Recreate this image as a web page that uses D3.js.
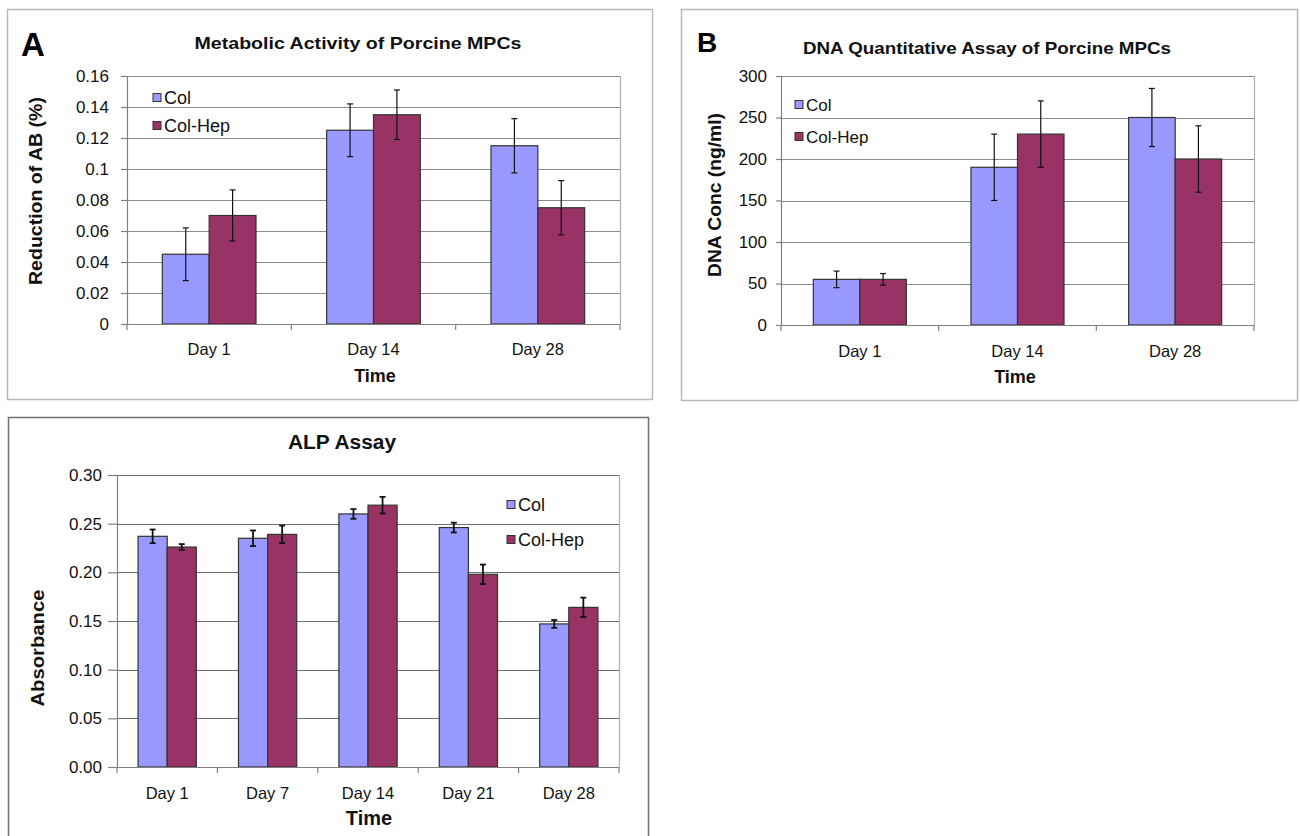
<!DOCTYPE html>
<html><head><meta charset="utf-8">
<script src="https://d3js.org/d3.v7.min.js"></script>
<style>body{margin:0;background:#fff}svg{display:block;font-family:"Liberation Sans",Arial,sans-serif}</style>
</head><body>
<svg id="c" width="1300" height="836"></svg>
<script>
// ---- data ----
const seriesNames = ["Col", "Col-Hep"];
const colors = ["#9999FF", "#993366"];

const catsA = ["Day 1", "Day 14", "Day 28"];
const colA = [0.045, 0.125, 0.115];
const hepA = [0.070, 0.135, 0.075];
const colErrA = [0.017, 0.017, 0.0175];
const hepErrA = [0.0165, 0.016, 0.0175];
const ticksA = [0, 0.02, 0.04, 0.06, 0.08, 0.1, 0.12, 0.14, 0.16];

const catsB = ["Day 1", "Day 14", "Day 28"];
const colB = [55, 190, 250];
const hepB = [55, 230, 200];
const colErrB = [10, 40, 35];
const hepErrB = [7, 40, 40];
const ticksB = [0, 50, 100, 150, 200, 250, 300];

const catsC = ["Day 1", "Day 7", "Day 14", "Day 21", "Day 28"];
const colC = [0.237, 0.235, 0.260, 0.246, 0.147];
const hepC = [0.226, 0.239, 0.269, 0.198, 0.164];
const colErrC = [0.007, 0.008, 0.005, 0.005, 0.004];
const hepErrC = [0.003, 0.009, 0.0085, 0.010, 0.010];
const ticksC = [0, 0.05, 0.10, 0.15, 0.20, 0.25, 0.30];

const svg = d3.select("#c");

function panel(o) {
  const g = svg.append("g");
  // frame
  g.append("rect").attr("x", o.frame[0] + 0.5).attr("y", o.frame[1] + 0.5)
    .attr("width", o.frame[2]).attr("height", o.frame[3])
    .attr("fill", "#fff").attr("stroke", o.frameColor).attr("stroke-width", 1.5);

  const x = d3.scaleBand().domain(o.cats).range([o.px0, o.px1])
    .paddingInner(o.pad).paddingOuter(o.pad / 2);
  const xs = d3.scaleBand().domain(seriesNames).range([0, x.bandwidth()]);
  const y = d3.scaleLinear().domain([0, d3.max(o.ticks)]).range([o.py1, o.py0]);

  // plot area border (top/right)
  g.append("path")
    .attr("d", `M${o.px0},${o.py0 + 0.5}H${o.px1 + 0.5}V${o.py1}`)
    .attr("fill", "none").attr("stroke", "#b0b0b0").attr("stroke-width", 1.2);

  // gridlines
  g.append("g").selectAll("line").data(o.ticks.filter(t => t > 0)).join("line")
    .attr("x1", o.px0).attr("x2", o.px1)
    .attr("y1", d => Math.round(y(d)) + 0.5).attr("y2", d => Math.round(y(d)) + 0.5)
    .attr("stroke", o.gridColor).attr("stroke-width", 1.2);

  // y axis
  const ya = g.append("g").attr("transform", `translate(${o.px0},0)`)
    .call(d3.axisLeft(y).tickValues(o.ticks).tickFormat(o.fmt).tickSize(o.tick).tickSizeOuter(0).tickPadding(o.tickPad));
  ya.select(".domain").attr("stroke", "#808080").attr("stroke-width", 1.2);
  ya.selectAll(".tick line").attr("stroke", "#808080").attr("stroke-width", 1.2);
  ya.selectAll(".tick text").attr("font-size", 17).attr("fill", "#111")
    .attr("font-family", "Liberation Sans, Arial, sans-serif");

  // bars
  const vals = [o.col, o.hep], errs = [o.colErr, o.hepErr];
  seriesNames.forEach((s, si) => {
    g.append("g").selectAll("rect").data(o.cats).join("rect")
      .attr("x", c => x(c) + xs(s))
      .attr("y", (c, i) => y(vals[si][i]))
      .attr("width", xs.bandwidth())
      .attr("height", (c, i) => y(0) - y(vals[si][i]))
      .attr("fill", colors[si]).attr("stroke", "#333").attr("stroke-width", 1.2);
  });

  // x axis (bottom)
  const xa = g.append("g").attr("transform", `translate(0,${o.py1})`);
  xa.append("line").attr("x1", o.px0).attr("x2", o.px1).attr("y1", 0.5).attr("y2", 0.5)
    .attr("stroke", "#808080").attr("stroke-width", 1.2);
  const bounds = o.cats.map(c => x(c) - x.step() * o.pad / 2).concat([o.px1]);
  xa.selectAll("line.tk").data(bounds).join("line").attr("class", "tk")
    .attr("x1", d => d).attr("x2", d => d).attr("y1", 0).attr("y2", 6)
    .attr("stroke", "#808080").attr("stroke-width", 1.2);
  g.append("g").selectAll("text").data(o.cats).join("text")
    .attr("x", c => x(c) + x.bandwidth() / 2).attr("y", o.xLabelY)
    .attr("text-anchor", "middle").attr("font-size", o.xFont).attr("fill", "#111").text(c => c);

  // error bars
  seriesNames.forEach((s, si) => {
    const eg = g.append("g").attr("stroke", "#111").attr("stroke-width", o.errW);
    o.cats.forEach((c, i) => {
      const cx = x(c) + xs(s) + xs.bandwidth() / 2;
      const v = vals[si][i], e = errs[si][i];
      eg.append("line").attr("x1", cx).attr("x2", cx).attr("y1", y(v + e)).attr("y2", y(v - e));
      eg.append("line").attr("x1", cx - o.cap).attr("x2", cx + o.cap).attr("y1", y(v + e)).attr("y2", y(v + e));
      eg.append("line").attr("x1", cx - o.cap).attr("x2", cx + o.cap).attr("y1", y(v - e)).attr("y2", y(v - e));
    });
  });

  // legend
  seriesNames.forEach((s, si) => {
    const ly = o.legY[si];
    g.append("rect").attr("x", o.legX).attr("y", ly - 4.5).attr("width", 8).attr("height", 8)
      .attr("fill", colors[si]).attr("stroke", "#333").attr("stroke-width", 1);
    g.append("text").attr("x", o.legX + 11).attr("y", ly + 6)
      .attr("font-size", o.legFont).attr("fill", "#111").text(s);
  });

  // title
  g.append("text").attr("x", o.titleX).attr("y", o.titleY).attr("text-anchor", "middle")
    .attr("font-size", o.titleFont).attr("font-weight", "bold").attr("fill", "#111")
    .attr("textLength", o.titleLen).attr("lengthAdjust", "spacingAndGlyphs").text(o.title);
  // panel letter
  if (o.letter) {
    g.append("text").attr("x", o.letterX).attr("y", o.letterY)
      .attr("font-size", o.letterFont).attr("font-weight", "bold").attr("fill", "#000").text(o.letter);
  }
  // y title
  g.append("text").attr("transform", `translate(${o.yTitleX},${o.yTitleY}) rotate(-90)`)
    .attr("text-anchor", "middle").attr("font-size", o.yTitleFont).attr("font-weight", "bold")
    .attr("fill", "#111").attr("textLength", o.yTitleLen).attr("lengthAdjust", "spacingAndGlyphs")
    .text(o.yTitle);
  // x title
  g.append("text").attr("x", o.xTitleX).attr("y", o.xTitleY).attr("text-anchor", "middle")
    .attr("font-size", o.xTitleFont).attr("font-weight", "bold").attr("fill", "#111").text("Time");
}

const fmtA = d => String(+d.toFixed(2));

panel({
  frame: [7, 9, 645, 390], frameColor: "#b8b8b8",
  cats: catsA, col: colA, hep: hepA, colErr: colErrA, hepErr: hepErrA, ticks: ticksA, fmt: fmtA,
  px0: 127, px1: 620, py0: 76, py1: 324, pad: 0.43, gridColor: "#8a8a8a",
  tick: 6, tickPad: 12,
  errW: 1.2, cap: 3, xLabelY: 355, xFont: 16.5,
  legX: 153, legY: [98, 126], legFont: 18,
  title: "Metabolic Activity of Porcine MPCs", titleX: 358, titleY: 49, titleFont: 17, titleLen: 327,
  letter: "A", letterX: 21, letterY: 56, letterFont: 33,
  yTitle: "Reduction of AB (%)", yTitleX: 42, yTitleY: 191, yTitleFont: 19, yTitleLen: 188,
  xTitleX: 375, xTitleY: 382, xTitleFont: 18
});

panel({
  frame: [681, 9, 616, 391], frameColor: "#b8b8b8",
  cats: catsB, col: colB, hep: hepB, colErr: colErrB, hepErr: hepErrB, ticks: ticksB, fmt: d => String(d),
  px0: 781, px1: 1254, py0: 76, py1: 325, pad: 0.41, gridColor: "#8a8a8a",
  tick: 5, tickPad: 9,
  errW: 1.2, cap: 3, xLabelY: 357, xFont: 16.5,
  legX: 795, legY: [105, 137], legFont: 17,
  title: "DNA Quantitative Assay of Porcine MPCs", titleX: 987, titleY: 54, titleFont: 17, titleLen: 368,
  letter: "B", letterX: 697, letterY: 52, letterFont: 28,
  yTitle: "DNA Conc (ng/ml)", yTitleX: 721, yTitleY: 195, yTitleFont: 19, yTitleLen: 164,
  xTitleX: 1015, xTitleY: 383, xTitleFont: 18
});

panel({
  frame: [8, 417, 640, 440], frameColor: "#6e6e6e",
  cats: catsC, col: colC, hep: hepC, colErr: colErrC, hepErr: hepErrC, ticks: ticksC, fmt: d3.format(".2f"),
  px0: 117, px1: 619, py0: 475, py1: 767, pad: 0.42, gridColor: "#6e6e6e",
  tick: 9, tickPad: 6,
  errW: 1.8, cap: 3, xLabelY: 799, xFont: 16.5,
  legX: 507, legY: [505, 540], legFont: 18,
  title: "ALP Assay", titleX: 342, titleY: 449, titleFont: 20, titleLen: 108,
  letter: null,
  yTitle: "Absorbance", yTitleX: 44, yTitleY: 648, yTitleFont: 19, yTitleLen: 117,
  xTitleX: 369, xTitleY: 825, xTitleFont: 20
});
</script>
</body></html>
